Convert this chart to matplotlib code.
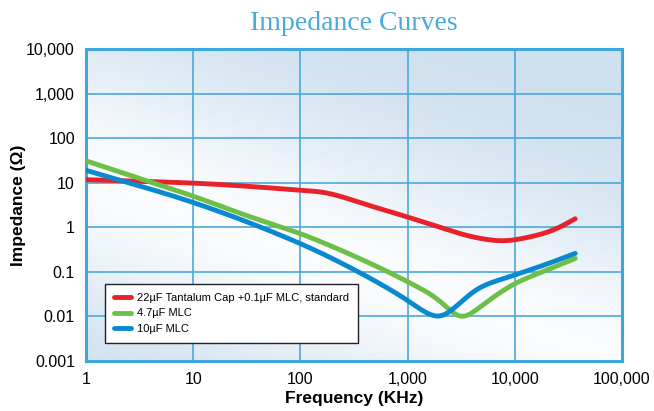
import numpy as np
import matplotlib.pyplot as plt
from matplotlib.colors import LinearSegmentedColormap

# frequency in KHz, impedance in ohm
red_f = [1, 10, 100, 160, 240, 400, 1000, 2200, 4000, 7700, 14000, 23000, 36600]
red_z = [11.7, 9.8, 6.8, 6.2, 4.9, 3.3, 1.7, 0.93, 0.61, 0.49, 0.61, 0.86, 1.56]

green_f = [1, 3.2, 10, 31, 100, 300, 1000, 1900, 2400, 3200, 4000, 6700, 10000, 20000, 36600]
green_z = [31, 12.3, 5.0, 1.85, 0.72, 0.24, 0.06, 0.025, 0.015, 0.0083, 0.012, 0.03, 0.055, 0.11, 0.2]

blue_f = [1, 10, 100, 300, 1000, 1430, 2000, 2600, 4600, 10000, 20000, 36600]
blue_z = [19, 3.6, 0.43, 0.12, 0.023, 0.0126, 0.009, 0.014, 0.044, 0.085, 0.15, 0.26]

labels = ['22µF Tantalum Cap +0.1µF MLC, standard', '4.7µF MLC', '10µF MLC']
colors = ['#e8222b', '#6cbf47', '#0a89d0']

x_ticks = [1, 10, 100, 1000, 10000, 100000]
x_ticklabels = ['1', '10', '100', '1,000', '10,000', '100,000']
y_ticks = [0.001, 0.01, 0.1, 1, 10, 100, 1000, 10000]
y_ticklabels = ['0.001', '0.01', '0.1', '1', '10', '100', '1,000', '10,000']


def pchip(f, z, n=800):
    # monotone cubic through the points, in log-log space, then lightly smoothed
    x = np.log10(f)
    y = np.log10(z)
    h = np.diff(x)
    d = np.diff(y) / h
    m = np.zeros_like(y)
    for i in range(1, len(y) - 1):
        if d[i - 1] * d[i] > 0:
            w1 = 2 * h[i] + h[i - 1]
            w2 = h[i] + 2 * h[i - 1]
            m[i] = (w1 + w2) / (w1 / d[i - 1] + w2 / d[i])
    m[0] = d[0]
    m[-1] = d[-1]
    xs = np.linspace(x[0], x[-1], n)
    k = np.clip(np.searchsorted(x, xs) - 1, 0, len(h) - 1)
    t = (xs - x[k]) / h[k]
    h00 = 2 * t**3 - 3 * t**2 + 1
    h10 = t**3 - 2 * t**2 + t
    h01 = -2 * t**3 + 3 * t**2
    h11 = t**3 - t**2
    ys = h00 * y[k] + h10 * h[k] * m[k] + h01 * y[k + 1] + h11 * h[k] * m[k + 1]
    # gaussian smoothing (~0.07 decade), linear extension at the ends
    dx = xs[1] - xs[0]
    sig = 0.07 / dx
    r = int(3 * sig)
    g = np.exp(-0.5 * (np.arange(-r, r + 1) / sig) ** 2)
    g /= g.sum()
    left = ys[0] - (ys[1] - ys[0]) * np.arange(r, 0, -1)
    right = ys[-1] + (ys[-1] - ys[-2]) * np.arange(1, r + 1)
    ys = np.convolve(np.concatenate([left, ys, right]), g, mode='valid')
    return 10 ** xs, 10 ** ys


fig = plt.figure(figsize=(6.54, 4.11), dpi=100)
ax = fig.add_axes([0.1315, 0.1217, 0.8196, 0.759])
ax.set_xscale('log')
ax.set_yscale('log')
ax.set_xlim(1, 100000)
ax.set_ylim(0.001, 10000)

# background gradient: light diagonal band from left-middle to bottom-right
gx, gy = np.meshgrid(np.linspace(0, 1, 200), np.linspace(0, 1, 200))
s = gy + 0.6 * gx
light = np.exp(-((s - 0.6) / 0.42) ** 2)
cmap = LinearSegmentedColormap.from_list('bg', ['#cfe0ef', '#fafcfe'])
ax.imshow(light, cmap=cmap, origin='lower', extent=[0, 1, 0, 1],
          transform=ax.transAxes, aspect='auto', zorder=0)

for f, z, c, lab in zip([red_f, green_f, blue_f], [red_z, green_z, blue_z], colors, labels):
    xs, ys = pchip(f, z)
    ax.plot(xs, ys, color=c, lw=3.5, solid_capstyle='round', label=lab, zorder=3)

ax.grid(True, which='major', color='#4aa9db', lw=1.2, zorder=1)
ax.set_axisbelow(False)
for sp in ax.spines.values():
    sp.set_color('#3aa6dc')
    sp.set_linewidth(2.2)
ax.tick_params(which='both', length=0, pad=8, labelsize=11.5)
ax.minorticks_off()
ax.set_xticks(x_ticks)
ax.set_xticklabels(x_ticklabels)
ax.set_yticks(y_ticks)
ax.set_yticklabels(y_ticklabels)
for t in ax.get_xticklabels() + ax.get_yticklabels():
    t.set_family('Liberation Sans')
ax.set_xlabel('Frequency (KHz)', fontsize=12.5, fontweight='bold',
              family='Liberation Sans', labelpad=3)
ax.set_ylabel('Impedance (Ω)', fontsize=12.5, fontweight='bold',
              family='Liberation Sans', labelpad=0)
fig.text(0.541, 0.944, 'Impedance Curves', ha='center', va='center',
         fontsize=20, family='Liberation Serif', color='#4aaadc')

leg = ax.legend(loc='lower left', bbox_to_anchor=(0.035, 0.058),
                prop={'family': 'Liberation Sans', 'size': 8},
                frameon=True, fancybox=False, handlelength=1.6, borderpad=0.8,
                labelspacing=0.5, handletextpad=0.5, borderaxespad=0)
leg.get_frame().set_edgecolor('#222222')
leg.get_frame().set_linewidth(1)
leg.get_frame().set_facecolor('white')
leg.get_frame().set_alpha(1)

fig.savefig('out.png', dpi=100)
